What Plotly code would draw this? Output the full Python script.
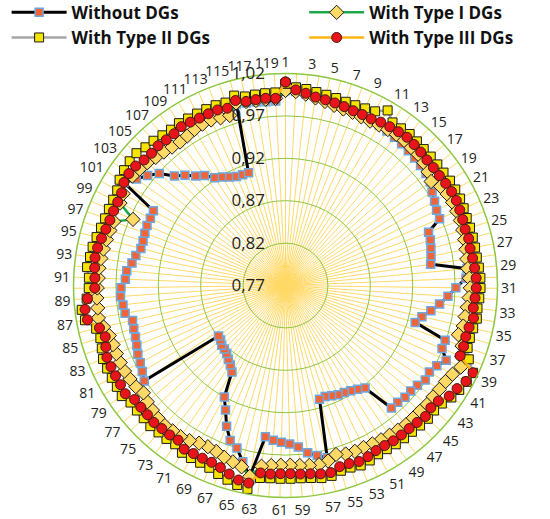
import plotly.graph_objects as go

buses = [str(i) for i in range(1, 120)]

without_dg = [
    1.000, 0.999, 0.997, 0.996, 0.995, 0.994, 0.993, 0.992, 0.991, 0.990,
    0.989, 0.988, 0.987, 0.986, 0.985, 0.984, 0.983, 0.982, 0.980, 0.975,
    0.972, 0.969, 0.968, 0.950, 0.949, 0.947, 0.945, 0.943, 0.985, 0.983,
    0.971, 0.962, 0.953, 0.944, 0.935, 0.929, 0.969, 0.969, 0.979, 0.972,
    0.968, 0.969, 0.965, 0.963, 0.963, 0.961, 0.961, 0.923, 0.919, 0.916,
    0.914, 0.913, 0.911, 0.909, 0.910, 0.979, 0.974, 0.969, 0.961, 0.957,
    0.955, 0.953, 0.950, 0.999, 0.984, 0.970, 0.964, 0.950, 0.933, 0.920,
    0.890, 0.884, 0.880, 0.876, 0.874, 0.873, 0.870, 0.869, 0.971, 0.967,
    0.964, 0.962, 0.959, 0.957, 0.956, 0.955, 0.962, 0.963, 0.965, 0.964,
    0.959, 0.958, 0.953, 0.950, 0.946, 0.946, 0.947, 0.948, 0.948, 0.949,
    0.996, 0.986, 0.978, 0.969, 0.954, 0.946, 0.937, 0.931, 0.922, 0.918,
    0.914, 0.911, 0.910, 0.910, 0.991, 0.990, 0.989, 0.988, 0.988,
]

type1_dg = [
    1.000, 0.999, 0.997, 0.994, 0.992, 0.990, 0.989, 0.989, 0.988, 0.988,
    0.989, 0.990, 0.991, 0.991, 0.990, 0.990, 0.988, 0.985, 0.981, 0.987,
    0.989, 0.990, 0.990, 0.990, 0.989, 0.988, 0.987, 0.986, 0.986, 0.987,
    0.988, 0.987, 0.986, 0.985, 0.985, 0.982, 0.990, 0.994, 0.998, 0.993,
    0.990, 0.989, 0.988, 0.988, 0.987, 0.987, 0.987, 0.986, 0.985, 0.984,
    0.983, 0.982, 0.982, 0.981, 0.978, 0.983, 0.985, 0.984, 0.983, 0.982,
    0.982, 0.983, 0.985, 0.999, 0.990, 0.987, 0.985, 0.982, 0.981, 0.982,
    0.985, 0.987, 0.987, 0.988, 0.987, 0.985, 0.983, 0.980, 0.983, 0.984,
    0.985, 0.985, 0.985, 0.985, 0.986, 0.990, 0.994, 0.993, 0.993, 0.992,
    0.991, 0.991, 0.990, 0.989, 0.988, 0.987, 0.986, 0.966, 0.988, 0.990,
    0.998, 0.992, 0.990, 0.988, 0.985, 0.983, 0.981, 0.980, 0.981, 0.983,
    0.984, 0.984, 0.982, 0.981, 0.993, 0.992, 0.991, 0.991, 0.991,
]

type2_dg = [
    1.008, 1.004, 1.003, 1.001, 1.000, 0.999, 0.998, 0.998, 0.999, 1.001,
    1.009, 1.000, 1.000, 1.001, 1.000, 0.999, 0.999, 0.999, 0.999, 1.000,
    1.000, 1.000, 0.999, 0.998, 0.998, 0.998, 0.998, 0.998, 0.999, 1.000,
    1.000, 0.999, 0.998, 0.999, 0.997, 0.996, 0.997, 1.003, 1.014, 1.012,
    1.009, 1.006, 1.001, 0.999, 1.000, 0.999, 0.998, 0.998, 0.998, 0.997,
    0.997, 0.999, 1.000, 0.998, 0.998, 1.001, 1.001, 0.999, 0.998, 0.998,
    0.998, 0.998, 0.999, 1.014, 1.012, 1.009, 1.006, 1.003, 1.002, 1.002,
    1.002, 0.998, 0.999, 0.999, 1.000, 0.999, 0.999, 0.999, 1.003, 1.002,
    1.002, 1.002, 1.002, 0.999, 0.997, 0.999, 1.010, 1.012, 1.005, 1.002,
    1.002, 1.005, 1.003, 1.002, 1.000, 0.998, 0.997, 0.997, 0.997, 0.998,
    1.002, 1.004, 1.005, 1.005, 1.002, 1.001, 0.999, 0.998, 0.999, 0.998,
    0.998, 0.998, 0.998, 0.997, 1.002, 0.998, 0.998, 0.998, 0.998,
]

type3_dg = [
    1.010, 1.001, 0.998, 0.995, 0.994, 0.993, 0.992, 0.991, 0.991, 0.991,
    0.993, 0.994, 0.995, 0.996, 0.995, 0.994, 0.993, 0.993, 0.993, 0.994,
    0.995, 0.995, 0.994, 0.993, 0.992, 0.993, 0.992, 0.993, 0.994, 0.995,
    0.995, 0.994, 0.993, 0.995, 0.992, 0.991, 0.992, 0.992, 1.014, 1.011,
    1.006, 1.003, 0.996, 0.994, 0.996, 0.994, 0.993, 0.993, 0.993, 0.992,
    0.992, 0.994, 0.995, 0.993, 0.993, 0.997, 0.996, 0.994, 0.993, 0.992,
    0.992, 0.993, 0.993, 1.007, 1.006, 1.002, 0.998, 0.996, 0.996, 0.996,
    0.997, 0.992, 0.993, 0.993, 0.994, 0.993, 0.993, 0.993, 0.998, 0.997,
    0.997, 0.997, 0.997, 0.994, 0.991, 0.995, 1.007, 1.008, 1.004, 0.995,
    0.995, 0.996, 0.997, 0.996, 0.994, 0.992, 0.991, 0.991, 0.991, 0.992,
    0.996, 0.997, 0.996, 0.993, 0.992, 0.993, 0.992, 0.992, 0.994, 0.993,
    0.992, 0.992, 0.992, 0.990, 0.996, 0.992, 0.992, 0.992, 0.991,
]

radial_ticks = [0.77, 0.82, 0.87, 0.92, 0.97, 1.02]
angular_ticktext = [b if int(b) % 2 == 1 else "" for b in buses]
# nudge the last label left so it does not touch "1" at the top
angular_ticktext[-1] = angular_ticktext[-1] + "\u00a0\u00a0\u00a0\u00a0"


def closed(seq):
    return list(seq) + [seq[0]]


fig = go.Figure()
series = [
    ("Without DGs", without_dg, "black", 3, "legend",
     dict(symbol="square", size=8, color="#F0643A", line=dict(color="#6FA8DC", width=1.5))),
    ("With Type I DGs", type1_dg, "#1FA84A", 2.5, "legend2",
     dict(symbol="diamond", size=11, color="#FFD966", line=dict(color="#1a1a1a", width=1))),
    ("With Type II DGs", type2_dg, "#A6A6A6", 2.5, "legend",
     dict(symbol="square", size=9, color="#F5E400", line=dict(color="#1a1a1a", width=1))),
    ("With Type III DGs", type3_dg, "#FDB515", 2.5, "legend2",
     dict(symbol="circle", size=10, color="#E8141B", line=dict(color="#4a1a0a", width=1))),
]
for name, vals, lc, lw, lg, mk in series:
    fig.add_trace(go.Scatterpolar(
        r=closed(vals), theta=closed(buses), name=name, legend=lg,
        mode="lines+markers", line=dict(color=lc, width=lw), marker=mk,
    ))

legend_common = dict(
    orientation="v", yanchor="top", xanchor="left", itemwidth=55,
    font=dict(size=17, weight="bold", color="#111111"),
    traceorder="normal", tracegroupgap=0, bgcolor="rgba(0,0,0,0)",
)

fig.update_layout(
    width=550, height=519,
    margin=dict(l=0, r=0, t=0, b=0, autoexpand=False),
    paper_bgcolor="white",
    separators=",.",
    font=dict(family="Open Sans, Noto Sans, sans-serif", color="#231F20"),
    showlegend=True,
    legend=dict(x=0.012, y=1.01, **legend_common),
    legend2=dict(x=0.553, y=1.01, **legend_common),
    polar=dict(
        domain=dict(x=[73.5 / 550, 497.5 / 550], y=[1 - 497.5 / 519, 1 - 73.5 / 519]),
        bgcolor="white",
        angularaxis=dict(
            type="category", direction="clockwise", rotation=90,
            tickmode="array", tickvals=buses, ticktext=angular_ticktext,
            showgrid=True, gridcolor="#FFD966", gridwidth=1,
            showline=True, linecolor="#8DC63F", linewidth=1.5,
            ticks="", tickfont=dict(size=14, color="#231F20"),
        ),
        radialaxis=dict(
            range=[0.77, 1.02], angle=90, side="counterclockwise",
            tickmode="array", tickvals=radial_ticks, tickformat=".2f",
            showgrid=True, gridcolor="#8DC63F", gridwidth=1.2,
            showline=False, ticks="outside", ticklen=14, tickcolor="rgba(0,0,0,0)",
            tickangle=90, tickfont=dict(size=17, color="#231F20"),
        ),
    ),
)

fig.write_html("out.html")
